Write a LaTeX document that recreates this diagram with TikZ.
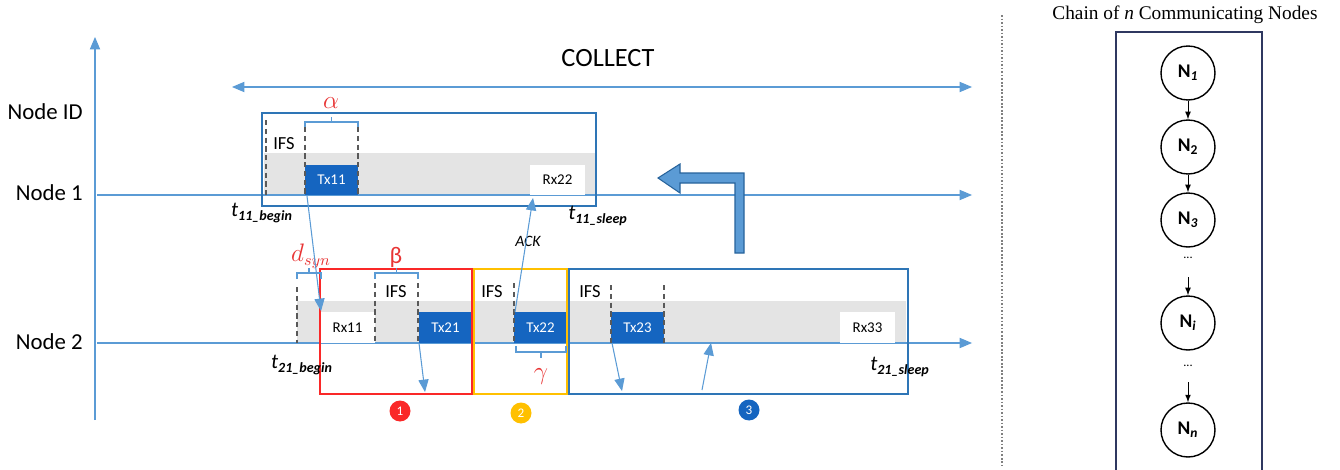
\documentclass[tikz,border=0pt]{standalone}
\usepackage{fontspec}
\setmainfont{Carlito}
\newfontfamily\timesfont{Liberation Serif}
\usepackage{tikz}
\usetikzlibrary{arrows,calc}
\definecolor{ax_blue}{RGB}{91,155,213}
\definecolor{box_blue}{RGB}{46,117,182}
\definecolor{tx_blue}{RGB}{21,101,192}
\definecolor{win_red}{RGB}{250,40,40}
\definecolor{win_yellow}{RGB}{255,192,0}
\definecolor{band_grey}{RGB}{228,228,228}
\definecolor{chain_navy}{RGB}{47,56,96}
\definecolor{lbl_red}{RGB}{232,52,52}
\tikzstyle{tx}=[rectangle,fill=tx_blue,text=white,inner sep=0pt,
  minimum width=1.06cm,minimum height=0.62cm,font=\fontsize{8.5}{10}\selectfont]
\tikzstyle{rx}=[rectangle,fill=white,inner sep=0pt,
  minimum width=1.1cm,minimum height=0.62cm,font=\fontsize{8.5}{10}\selectfont]
\tikzstyle{ifs}=[inner sep=0pt,font=\fontsize{10.5}{12}\selectfont]
\tikzstyle{lab}=[inner sep=0pt,font=\fontsize{13}{15}\selectfont]
\tikzstyle{tlab}=[inner sep=0pt,font=\fontsize{12}{14}\selectfont\itshape]
\tikzstyle{grk}=[inner sep=0pt,text=lbl_red,font=\fontsize{13.5}{15}\selectfont]
\tikzstyle{badge}=[circle,inner sep=0pt,minimum size=0.42cm,text=white,
  font=\fontsize{7.5}{9}\selectfont]
\tikzstyle{nd}=[circle,draw=black,line width=0.8pt,inner sep=0pt,
  minimum size=1.08cm,font=\fontsize{11}{13}\selectfont\bfseries]
\tikzstyle{win}=[line width=1.2pt]
\tikzstyle{axis}=[ax_blue,line width=0.6pt]
\tikzstyle{sig}=[ax_blue,line width=0.6pt,-triangle 45]
\tikzstyle{brk}=[ax_blue,line width=0.8pt]
\tikzstyle{gap}=[black!65,densely dashed,line width=0.8pt]
\tikzstyle{chain}=[black,line width=0.5pt,-latex]
\tikzstyle{none}=[]

\begin{document}
\begin{tikzpicture}[x=0.02cm,y=-0.02cm]
    \useasboundingbox (0,0) rectangle (1340,470);
            \fill [band_grey] (264,153) rectangle (596,195);
            \fill [band_grey] (297,301) rectangle (906,343);
            \draw [style=axis,-triangle 45] (95,420) to (95,37);
            \draw [style=axis,-triangle 45] (97,195) to (972,195);
            \draw [style=axis,-triangle 45] (97,343) to (972,343);
            \draw [style=axis,triangle 45-triangle 45] (232,87) to (972,87);
            \node [style=tx] (0) at (331.5,180) {Tx11};
            \node [style=rx] (1) at (557.5,180) {Rx22};
            \node [style=rx] (2) at (347.5,327.5) {Rx11};
            \node [style=tx] (3) at (445.5,327.5) {Tx21};
            \node [style=tx] (4) at (540.5,327.5) {Tx22};
            \node [style=tx] (5) at (637.5,327.5) {Tx23};
            \node [style=rx] (6) at (867.5,327.5) {Rx33};
            \draw [style=win,draw=box_blue] (262,113) rectangle (596,206);
            \draw [style=win,draw=win_red] (320,269) rectangle (472,394);
            \draw [style=win,draw=win_yellow] (474,269) rectangle (567,394);
            \draw [style=win,draw=box_blue] (569,269) rectangle (908,394);
            \foreach \x/\y in {266/120,305/127,358/127,297/287,375/283,418/283,514/283,611/285,664/285}
                \draw [style=gap] (\x,\y) to (\x,{\y<200 ? 195 : 343});
            \draw [style=brk] (305,127) -- (305,122) -- (358,122) -- (358,127);
            \draw [style=brk] (331.5,122) -- (331.5,117);
            \draw [style=brk] (297,279) -- (297,273) -- (321,273) -- (321,279);
            \draw [style=brk] (309,273) -- (309,268);
            \draw [style=brk] (375,279) -- (375,273) -- (418,273) -- (418,279);
            \draw [style=brk] (396.5,273) -- (396.5,268);
            \draw [style=brk] (516,346) -- (516,352) -- (566,352) -- (566,346);
            \draw [style=brk] (541,352) -- (541,358);
            \node [style=lab,anchor=east] (10) at (83,112) {Node ID};
            \node [style=lab,anchor=east] (11) at (83,193) {Node 1};
            \node [style=lab,anchor=east] (12) at (83,342) {Node 2};
            \node [style=lab,font=\fontsize{15}{18}\selectfont] (13) at (608,58) {COLLECT};
            \node [style=ifs] (14) at (284,144) {IFS};
            \node [style=ifs] (15) at (396,292) {IFS};
            \node [style=ifs] (16) at (492,292) {IFS};
            \node [style=ifs] (17) at (590,292) {IFS};
            \node [style=grk] (18) at (331,103) {$\alpha$};
            \node [style=grk] (19) at (396,257) {β};
            \node [style=grk] (20) at (541,377) {$\gamma$};
            \node [style=grk] (21) at (311,256) {$d_{syn}$};
            \node [style=tlab] (22) at (262,213) {t\textsubscript{\bfseries 11\_begin}};
            \node [style=tlab] (23) at (598,216) {t\textsubscript{\bfseries 11\_sleep}};
            \node [style=tlab] (24) at (302,365) {t\textsubscript{\bfseries 21\_begin}};
            \node [style=tlab] (25) at (900,367) {t\textsubscript{\bfseries 21\_sleep}};
            \node [style=ifs,font=\fontsize{9}{11}\selectfont\itshape] (26) at (528,241) {ACK};
            \node [style=none] (30) at (307,196) {};
            \node [style=none] (31) at (321,311) {};
            \node [style=none] (32) at (515,312) {};
            \node [style=none] (33) at (533,198) {};
            \node [style=none] (34) at (419,343) {};
            \node [style=none] (35) at (425,392) {};
            \node [style=none] (36) at (612,343) {};
            \node [style=none] (37) at (622,391) {};
            \node [style=none] (38) at (702,390) {};
            \node [style=none] (39) at (711,343) {};
            \draw [style=sig] (30.center) to (31.center);
            \draw [style=sig] (32.center) to (33.center);
            \draw [style=sig] (34.center) to (35.center);
            \draw [style=sig] (36.center) to (37.center);
            \draw [style=sig] (38.center) to (39.center);
            \node [style=badge,fill=win_red] (40) at (400,411) {1};
            \node [style=badge,fill=win_yellow] (41) at (521,413) {2};
            \node [style=badge,fill=tx_blue] (42) at (749,410) {3};
            \filldraw [fill=ax_blue,draw=box_blue!85!black,line width=0.6pt]
                (735,253) -- (735,183) -- (680,183) -- (680,193) -- (658,178)
                -- (680,164) -- (680,173) -- (744,173) -- (744,253) -- cycle;
            \draw [gray,dash pattern=on 1pt off 1pt,line width=0.8pt] (1002,15) -- (1002,465);
            \node [style=none,inner sep=0pt,font=\timesfont\fontsize{11}{13}\selectfont] (50) at (1185,15) {Chain of \textit{n} Communicating Nodes};
            \draw [chain_navy,line width=0.7pt] (1116,480) -- (1116,32) -- (1262,32) -- (1262,480);
            \node [style=nd] (51) at (1188,73) {N\textsubscript{\itshape 1}};
            \node [style=nd] (52) at (1188,147) {N\textsubscript{2}};
            \node [style=nd] (53) at (1188,220) {N\textsubscript{\itshape 3}};
            \node [style=none,font=\fontsize{7}{8}\selectfont] (54) at (1188,258) {...};
            \node [style=nd] (55) at (1188,323) {N\textsubscript{\itshape i}};
            \node [style=none,font=\fontsize{7}{8}\selectfont] (56) at (1188,366) {...};
            \node [style=nd] (57) at (1188,430) {N\textsubscript{\itshape n}};
            \node [style=none] (58) at (1188,277) {};
            \node [style=none] (59) at (1188,382) {};
            \draw [style=chain] (51) to (52);
            \draw [style=chain] (52) to (53);
            \draw [style=chain] (58.center) to (55);
            \draw [style=chain] (59.center) to (57);
    \end{tikzpicture}
\end{document}
